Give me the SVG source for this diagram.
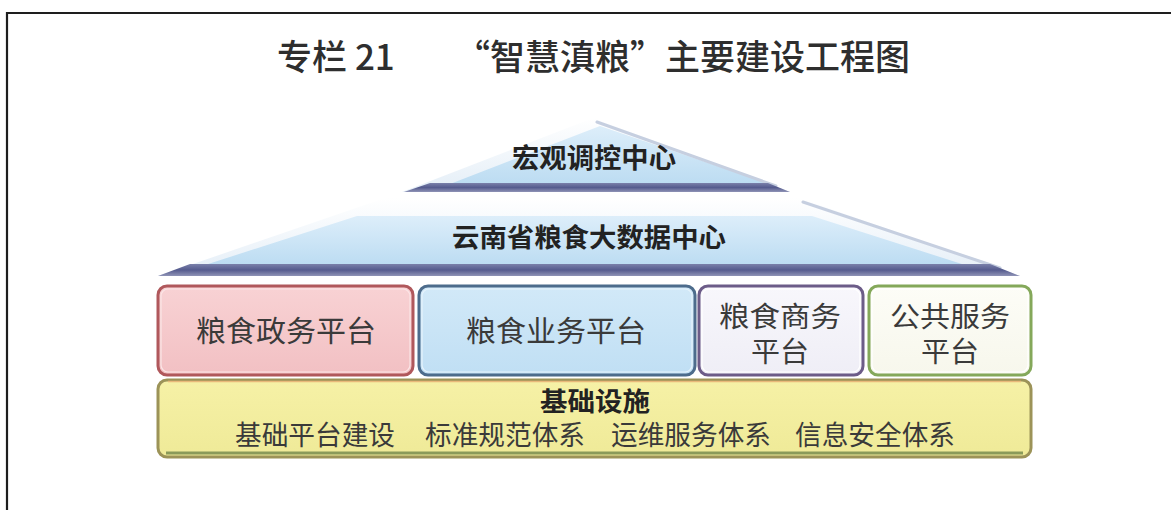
<svg xmlns="http://www.w3.org/2000/svg" width="1171" height="510" viewBox="0 0 1171 510">
<defs>
<style>
.t{font-family:"Noto Sans CJK SC","Noto Sans",sans-serif;fill:#2e2e2e}
.b{font-weight:bold;fill:#222}
.n{font-weight:normal;fill:#3a3a3a}
.edge{stroke:#c6cfe0;stroke-width:3;fill:none;stroke-linecap:round}
</style>
<linearGradient id="gTopOuter" x1="0" y1="0" x2="0" y2="1">
<stop offset="0" stop-color="#ffffff"/><stop offset="1" stop-color="#e4eef7"/>
</linearGradient>
<linearGradient id="gBlue" x1="0" y1="0" x2="0" y2="1">
<stop offset="0" stop-color="#ddeefa"/><stop offset="1" stop-color="#bcdcf2"/>
</linearGradient>
<linearGradient id="gBand" x1="0" y1="0" x2="0" y2="1">
<stop offset="0" stop-color="#7a80aa"/><stop offset="0.5" stop-color="#555b8e"/><stop offset="1" stop-color="#8f93b6"/>
</linearGradient>
<linearGradient id="gPink" x1="0" y1="0" x2="0" y2="1">
<stop offset="0" stop-color="#f8d2d4"/><stop offset="1" stop-color="#f2c0c3"/>
</linearGradient>
<linearGradient id="gLBlue" x1="0" y1="0" x2="0" y2="1">
<stop offset="0" stop-color="#d2e9f8"/><stop offset="1" stop-color="#c0dff4"/>
</linearGradient>
<linearGradient id="gLav" x1="0" y1="0" x2="0" y2="1">
<stop offset="0" stop-color="#f8f7fc"/><stop offset="1" stop-color="#efeef6"/>
</linearGradient>
<linearGradient id="gCream" x1="0" y1="0" x2="0" y2="1">
<stop offset="0" stop-color="#fdfdf7"/><stop offset="1" stop-color="#f7f7ec"/>
</linearGradient>
<linearGradient id="gYellow" x1="0" y1="0" x2="0" y2="1">
<stop offset="0" stop-color="#f6f1a6"/><stop offset="1" stop-color="#efea98"/>
</linearGradient>
</defs>

<rect width="1171" height="510" fill="#ffffff"/>
<path d="M7,510 V13 H1171" fill="none" stroke="#1e1e1e" stroke-width="2.2"/>

<g id="title">
<text class="t" x="277" y="70" font-size="35" font-weight="500" fill="#111">专栏 21</text>
<text class="t" x="455" y="70" font-size="35" font-weight="500" fill="#111">“智慧滇粮”主要建设工程图</text>
</g>

<g id="top-level">
<polygon points="593,118 402,192 790,192" fill="url(#gTopOuter)"/>
<polygon points="600,126 450,184 770,184" fill="url(#gBlue)"/>
<path class="edge" d="M597,122 L776,186"/>
<polygon points="430,183 768,183 790,192 404,192" fill="url(#gBand)"/>
<text class="t b" x="594" y="168" font-size="27" text-anchor="middle" textLength="164" lengthAdjust="spacingAndGlyphs">宏观调控中心</text>
</g>

<g id="data-center">
<polygon points="385,198 800,198 1020,276 158,276" fill="url(#gTopOuter)"/>
<polygon points="357,216 812,216 965,265 205,265" fill="url(#gBlue)"/>
<path class="edge" d="M803,202 L1000,268"/>
<polygon points="190,264 990,264 1020,276 158,276" fill="url(#gBand)"/>
<text class="t b" x="589" y="247" font-size="26" text-anchor="middle" textLength="274" lengthAdjust="spacingAndGlyphs">云南省粮食大数据中心</text>
</g>

<g id="gov-platform">
<rect x="158" y="286" width="255" height="89" rx="9" fill="url(#gPink)" stroke="#b0585c" stroke-width="3"/>
<rect x="161" y="289" width="249" height="83" rx="7" fill="none" stroke="#fbe6e7" stroke-width="1.2"/>
<text class="t n" x="286" y="342" font-size="29" text-anchor="middle" textLength="180" lengthAdjust="spacingAndGlyphs">粮食政务平台</text>
</g>

<g id="biz-platform">
<rect x="419" y="286" width="276" height="89" rx="9" fill="url(#gLBlue)" stroke="#4d6c8c" stroke-width="3"/>
<rect x="422" y="289" width="270" height="83" rx="7" fill="none" stroke="#e6f3fc" stroke-width="1.2"/>
<text class="t n" x="556" y="342" font-size="29" text-anchor="middle" textLength="180" lengthAdjust="spacingAndGlyphs">粮食业务平台</text>
</g>

<g id="commerce-platform">
<rect x="699" y="286" width="164" height="89" rx="9" fill="url(#gLav)" stroke="#6c5c88" stroke-width="3"/>
<rect x="702" y="289" width="158" height="83" rx="7" fill="none" stroke="#ffffff" stroke-width="1.2"/>
<text class="t n" x="780" y="327" font-size="28" text-anchor="middle" textLength="122" lengthAdjust="spacingAndGlyphs">粮食商务</text>
<text class="t n" x="780" y="362" font-size="28" text-anchor="middle" textLength="58" lengthAdjust="spacingAndGlyphs">平台</text>
</g>

<g id="public-platform">
<rect x="869" y="286" width="162" height="89" rx="9" fill="url(#gCream)" stroke="#84a85a" stroke-width="3"/>
<rect x="872" y="289" width="156" height="83" rx="7" fill="none" stroke="#ffffff" stroke-width="1.2"/>
<text class="t n" x="950" y="327" font-size="28" text-anchor="middle" textLength="120" lengthAdjust="spacingAndGlyphs">公共服务</text>
<text class="t n" x="950" y="362" font-size="28" text-anchor="middle" textLength="58" lengthAdjust="spacingAndGlyphs">平台</text>
</g>

<g id="infrastructure">
<rect x="158" y="380" width="873" height="77" rx="9" fill="url(#gYellow)" stroke="#9c9358" stroke-width="3"/>
<path d="M168,381.5 H1021" stroke="#e9b97a" stroke-width="1.5" fill="none"/>
<path d="M166,453 H1023" stroke="#8a9a5a" stroke-width="3" fill="none"/>
<text class="t b" x="595" y="411" font-size="26" text-anchor="middle" textLength="110" lengthAdjust="spacingAndGlyphs">基础设施</text>
<text class="t n" x="315" y="445" font-size="27" text-anchor="middle" textLength="160" lengthAdjust="spacingAndGlyphs">基础平台建设</text>
<text class="t n" x="505" y="445" font-size="27" text-anchor="middle" textLength="160" lengthAdjust="spacingAndGlyphs">标准规范体系</text>
<text class="t n" x="691" y="445" font-size="27" text-anchor="middle" textLength="160" lengthAdjust="spacingAndGlyphs">运维服务体系</text>
<text class="t n" x="875" y="445" font-size="27" text-anchor="middle" textLength="160" lengthAdjust="spacingAndGlyphs">信息安全体系</text>
</g>

<g id="connectors"></g>
</svg>
